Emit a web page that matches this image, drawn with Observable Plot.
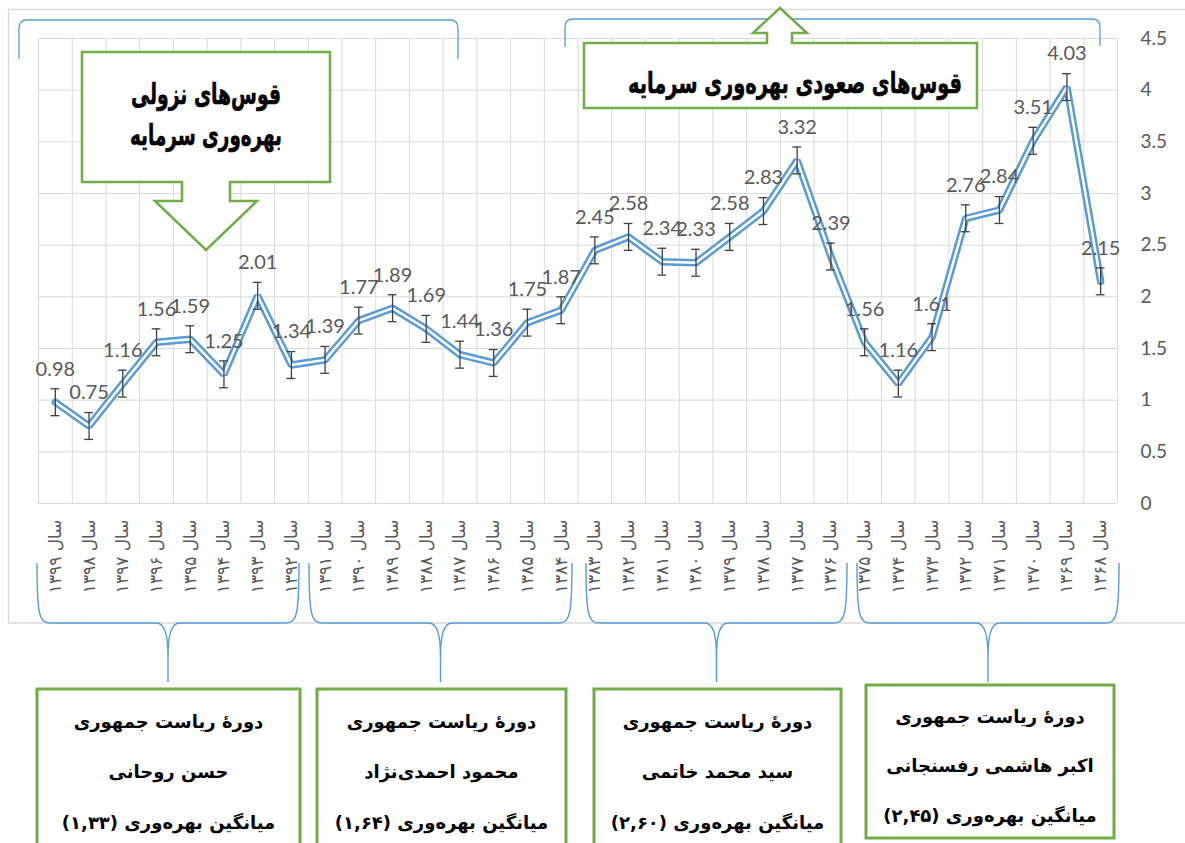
<!DOCTYPE html>
<html>
<head>
<meta charset="utf-8">
<script src="https://cdn.jsdelivr.net/npm/d3@7"></script>
<script src="https://cdn.jsdelivr.net/npm/@observablehq/plot@0.6"></script>
<style>
  body { margin: 0; background: #fff; }
  #chart { position: relative; width: 1185px; height: 843px; overflow: hidden; background: #fff; }
  #chart svg { display: block; }
</style>
</head>
<body>
<div id="chart"></div>
<script>
// ---- Data ----
const years = ["۱۳۹۹","۱۳۹۸","۱۳۹۷","۱۳۹۶","۱۳۹۵","۱۳۹۴","۱۳۹۳","۱۳۹۲",
               "۱۳۹۱","۱۳۹۰","۱۳۸۹","۱۳۸۸","۱۳۸۷","۱۳۸۶","۱۳۸۵","۱۳۸۴",
               "۱۳۸۳","۱۳۸۲","۱۳۸۱","۱۳۸۰","۱۳۷۹","۱۳۷۸","۱۳۷۷","۱۳۷۶",
               "۱۳۷۵","۱۳۷۴","۱۳۷۳","۱۳۷۲","۱۳۷۱","۱۳۷۰","۱۳۶۹","۱۳۶۸"];
const yearPrefix = "سال ";
const productivity = [0.98, 0.75, 1.16, 1.56, 1.59, 1.25, 2.01, 1.34,
                      1.39, 1.77, 1.89, 1.69, 1.44, 1.36, 1.75, 1.87,
                      2.45, 2.58, 2.34, 2.33, 2.58, 2.83, 3.32, 2.39,
                      1.56, 1.16, 1.61, 2.76, 2.84, 3.51, 4.03, 2.15];
const errorMargin = 0.13;
const yTicks = [0, 0.5, 1, 1.5, 2, 2.5, 3, 3.5, 4, 4.5];
const yTickLabels = ["0", "0.5", "1", "1.5", "2", "2.5", "3", "3.5", "4", "4.5"];

const periodTitle = "دورهٔ ریاست جمهوری";
const presidentNames = ["حسن روحانی", "محمود احمدی‌نژاد", "سید محمد خاتمی", "اکبر هاشمی رفسنجانی"];
const periodAverages = ["۱,۳۳", "۱,۶۴", "۲,۶۰", "۲,۴۵"];
const averageLabel = "میانگین بهره‌وری";
const fallingTitle = ["قوس‌های نزولی", "بهره‌وری سرمایه"];
const risingTitle = "قوس‌های صعودی بهره‌وری سرمایه";

// ---- Chart ----
const data = years.map((year, i) => ({i, year, value: productivity[i]}));
const boundaries = d3.range(years.length + 1).map(k => k - 0.5);
const gray = "#595959";
const blue = "#5B9BD5";
const green = "#70AD47";

const chart = Plot.plot({
  width: 1185,
  height: 843,
  marginTop: 38,
  marginBottom: 340,
  marginLeft: 38,
  marginRight: 68,
  style: {background: "transparent", fontFamily: "Lato", overflow: "visible"},
  x: {type: "linear", domain: [-0.5, years.length - 0.5]},
  y: {domain: [0, 4.5]},
  marks: [
    Plot.gridY(yTicks, {stroke: "#d9d9d9", strokeOpacity: 1}),
    Plot.ruleX(boundaries, {y1: 0, y2: 4.5, stroke: "#d9d9d9", strokeWidth: 1}),
    Plot.axisY(yTicks, {anchor: "right", tickSize: 0, tickPadding: 23, fontSize: 19, fill: gray,
      tickFormat: d => yTickLabels[yTicks.indexOf(d)], label: null}),
    Plot.axisX(data.map(d => d.i), {anchor: "bottom", tickSize: 0, tickPadding: 16, tickRotate: -90,
      tickFormat: i => yearPrefix + years[i], fontSize: 17, fill: gray, fontFamily: "DejaVu Sans", label: null}),
    Plot.line(data, {x: "i", y: "value", stroke: blue, strokeWidth: 7.5, strokeLinejoin: "miter"}),
    Plot.line(data, {x: "i", y: "value", stroke: "white", strokeWidth: 2.5, strokeLinejoin: "miter"}),
    Plot.ruleX(data, {x: "i", y1: d => d.value - errorMargin, y2: d => d.value + errorMargin, stroke: "#404040", strokeWidth: 1.3}),
    Plot.ruleY(data, {y: d => d.value + errorMargin, x1: d => d.i - 0.13, x2: d => d.i + 0.13, stroke: "#404040", strokeWidth: 1.3}),
    Plot.ruleY(data, {y: d => d.value - errorMargin, x1: d => d.i - 0.13, x2: d => d.i + 0.13, stroke: "#404040", strokeWidth: 1.3}),
    Plot.text(data, {x: "i", y: "value", text: d => d.value.toFixed(2), dy: -33, fontSize: 20, fill: gray, fontFamily: "Lato"})
  ]
});

document.getElementById("chart").appendChild(chart);

// ---- Annotations ----
const svg = d3.select(chart);

// chart frame (below everything)
svg.insert("rect", ":first-child")
  .attr("x", 8.5).attr("y", 9.5).attr("width", 1200).attr("height", 613.5)
  .attr("fill", "white").attr("stroke", "#d9d9d9").attr("stroke-width", 1.5);

const ann = svg.append("g");

// top brackets
ann.append("path")
  .attr("d", "M19,59 L19,28 Q19,20 27,20 L450,20 Q458,20 458,28 L458,59")
  .attr("fill", "none").attr("stroke", blue).attr("stroke-width", 1.3);
ann.append("path")
  .attr("d", "M565,47 L565,27 Q565,19 573,19 L1092,19 Q1100,19 1100,27 L1100,46")
  .attr("fill", "none").attr("stroke", blue).attr("stroke-width", 1.3);

function titleText(t, x, y, len) {
  ann.append("text").text(t)
    .attr("x", x).attr("y", y)
    .attr("direction", "rtl").attr("text-anchor", "middle").attr("dominant-baseline", "central")
    .attr("textLength", len).attr("lengthAdjust", "spacingAndGlyphs")
    .attr("font-family", "DejaVu Sans").attr("font-weight", "bold").attr("font-size", 29)
    .attr("fill", "black").attr("stroke", "black").attr("stroke-width", 0.6);
}

// falling callout (arrow down)
ann.append("path")
  .attr("d", "M82,52 H330 V182 H230 V201 H257 L206,250 L155,201 H182 V182 H82 Z")
  .attr("fill", "white").attr("stroke", green).attr("stroke-width", 2.5);
titleText(fallingTitle[0], 206, 94, 150);
titleText(fallingTitle[1], 206, 135, 152);

// rising callout (arrow up)
ann.append("path")
  .attr("d", "M584,43 H767 V33 H753 L780,8 L807,33 H792 V43 H977 V108 H584 Z")
  .attr("fill", "white").attr("stroke", green).attr("stroke-width", 2.5);
titleText(risingTitle, 795, 83, 334);

// bottom braces
const braces = [[37, 299], [309, 572], [586, 847], [857, 1119]];
braces.forEach(([x0, x1]) => {
  const xm = (x0 + x1) / 2;
  const top = 563, mid = 623, tip = 682;
  const d = `M${x0},${top} C${x0},${mid - 8} ${x0 + 2},${mid} ${x0 + 14},${mid}` +
            ` L${xm - 12},${mid} C${xm - 3},${mid} ${xm},${mid + 12} ${xm},${mid + 35} L${xm},${tip}` +
            ` M${xm},${mid + 35} C${xm},${mid + 12} ${xm + 3},${mid} ${xm + 12},${mid}` +
            ` L${x1 - 14},${mid} C${x1 - 2},${mid} ${x1},${mid - 8} ${x1},${top}`;
  ann.append("path").attr("d", d).attr("fill", "none").attr("stroke", blue).attr("stroke-width", 1.4);
});

// president boxes
const boxes = [
  {x: 37, y: 689, w: 263, h: 220, lines: [721, 771, 822]},
  {x: 317, y: 689, w: 249, h: 220, lines: [721, 771, 822]},
  {x: 594, y: 689, w: 247, h: 220, lines: [721, 771, 822]},
  {x: 866, y: 685, w: 248, h: 153, lines: [716, 765, 815]}
];
boxes.forEach((b, k) => {
  ann.append("rect").attr("x", b.x).attr("y", b.y).attr("width", b.w).attr("height", b.h)
    .attr("fill", "white").attr("stroke", green).attr("stroke-width", 3);
  const texts = [periodTitle, presidentNames[k], averageLabel + " (" + periodAverages[k] + ")"];
  texts.forEach((t, j) => {
    ann.append("text").text(t)
      .attr("x", b.x + b.w / 2).attr("y", b.lines[j])
      .attr("direction", "rtl").attr("text-anchor", "middle").attr("dominant-baseline", "central")
      .attr("font-family", "DejaVu Sans").attr("font-weight", "bold").attr("font-size", 18).attr("fill", "black");
  });
});
</script>
</body>
</html>
